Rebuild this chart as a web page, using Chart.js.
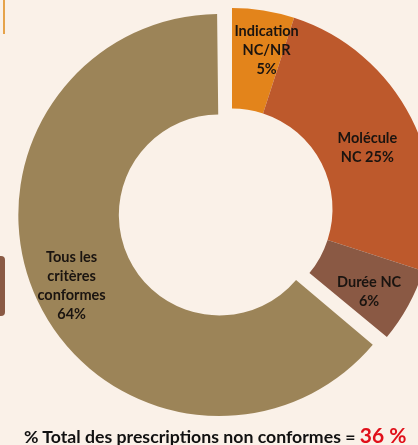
<!DOCTYPE html>
<html>
<head>
<meta charset="utf-8">
<script src="https://cdn.jsdelivr.net/npm/chart.js@4"></script>
<style>
  html, body { margin: 0; padding: 0; }
  body { width: 418px; height: 445px; overflow: hidden; position: relative; background: #faf1e8; font-family: Lato, "Open Sans", sans-serif; }
  #wrap { position: absolute; left: 3px; top: -20px; width: 458px; height: 458px; }
  #total { position: absolute; left: 24px; top: 422px; white-space: nowrap; font-weight: bold; font-size: 17.7px; color: #111; }
  #total span { color: #e0101a; font-size: 21px; }
  .edge1 { position: absolute; left: 0; top: 0; width: 3px; height: 34px; border-right: 2px solid #e6a34a; }
  .edge2 { position: absolute; left: -8px; top: 256px; width: 13px; height: 60px; background: #8a5a44; border-radius: 4px; }
</style>
</head>
<body>
<div class="edge1"></div>
<div class="edge2"></div>
<div id="wrap"><canvas id="pie" width="458" height="458"></canvas></div>
<div id="total">% Total des prescriptions non conformes = <span>36 %</span></div>
<script>
// ── data ────────────────────────────────────────────
const categories = ['Indication NC/NR', 'Molécule NC', 'Durée NC', 'Tous les critères conformes'];
const values = [5, 25, 6, 64];
const sliceColors = ['#e3841b', '#bd592c', '#8a5944', '#9c8458'];
// how each label is wrapped inside its slice ({v} = value)
const labelLines = [
  ['Indication', 'NC/NR', '{v}%'],
  ['Molécule', 'NC {v}%'],
  ['Durée NC', '{v}%'],
  ['Tous les', 'critères', 'conformes', '{v}%']
];

// only the big slice is pulled out (chart.js moves it by offset/4)
const explode = [0, 0, 0, 56];
const nudge = [[11, -10], [1, 7], [5, 10], [14, -5]];

// chart.js also grows the radius of an exploded slice; keep it the same size as the others
const keepRadius = {
  id: 'keepRadius',
  beforeDatasetsDraw(chart) {
    chart.getDatasetMeta(0).data.forEach((arc, i) => {
      arc._grow = explode[i] / 4 * (1 - Math.sin(Math.min(Math.PI, arc.circumference)));
      arc.outerRadius -= arc._grow;
      arc.innerRadius -= arc._grow;
    });
  },
  afterDatasetsDraw(chart) {
    chart.getDatasetMeta(0).data.forEach(arc => {
      arc.outerRadius += arc._grow;
      arc.innerRadius += arc._grow;
    });
  }
};

const sliceLabels = {
  id: 'sliceLabels',
  afterDatasetsDraw(chart) {
    const c = chart.ctx;
    const arcs = chart.getDatasetMeta(0).data;
    c.save();
    c.font = 'bold 14.5px Lato, "Open Sans", sans-serif';
    c.fillStyle = '#1a1410';
    c.textAlign = 'center';
    c.textBaseline = 'middle';
    arcs.forEach((arc, i) => {
      const p = arc.getCenterPoint();
      const mid = (arc.startAngle + arc.endAngle) / 2;
      const shift = explode[i] / 4;
      const x = p.x + Math.cos(mid) * shift + nudge[i][0];
      const y = p.y + Math.sin(mid) * shift + nudge[i][1];
      const lines = labelLines[i].map(t => t.replace('{v}', values[i]));
      const lh = 19;
      const y0 = y - (lines.length - 1) * lh / 2;
      lines.forEach((t, k) => c.fillText(t, x, y0 + k * lh));
    });
    c.restore();
  }
};

new Chart(document.getElementById('pie'), {
  type: 'doughnut',
  data: {
    labels: categories,
    datasets: [{
      data: values,
      backgroundColor: sliceColors,
      borderWidth: 0,
      offset: explode,
      hoverOffset: 0
    }]
  },
  options: {
    responsive: false,
    animation: false,
    events: [],
    cutout: '50%',
    plugins: { legend: { display: false }, tooltip: { enabled: false } }
  },
  plugins: [keepRadius, sliceLabels]
});
</script>
</body>
</html>
